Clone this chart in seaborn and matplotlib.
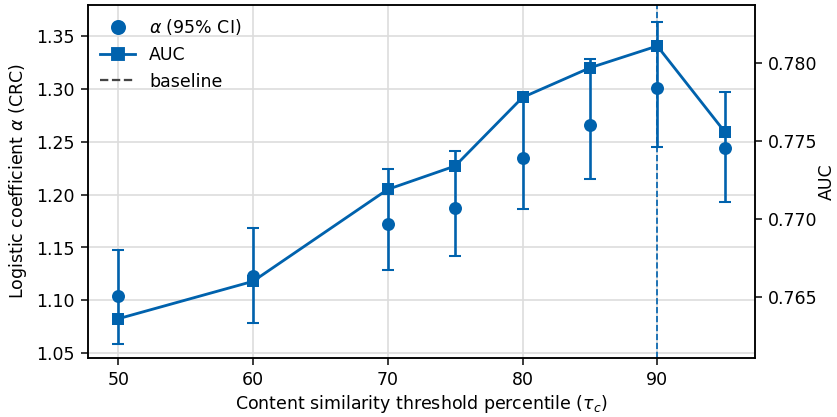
import pandas as pd
import seaborn as sns
import matplotlib.pyplot as plt
from matplotlib.lines import Line2D

# data
thresholds = [50, 60, 70, 75, 80, 85, 90, 95]
alpha = [1.104, 1.123, 1.172, 1.187, 1.235, 1.266, 1.301, 1.244]
alpha_low = [1.059, 1.079, 1.129, 1.142, 1.186, 1.215, 1.245, 1.193]
alpha_high = [1.148, 1.168, 1.224, 1.241, 1.290, 1.328, 1.363, 1.297]
auc = [0.7636, 0.7660, 0.7719, 0.7734, 0.7778, 0.7797, 0.7811, 0.7756]
baseline_tau = 90

BLUE = '#0062ad'

df = pd.DataFrame({'tau': thresholds, 'alpha': alpha,
                   'low': alpha_low, 'high': alpha_high, 'auc': auc})

plt.rcParams['font.family'] = ['DejaVu Sans']
plt.rcParams['font.size'] = 9.3

fig, ax = plt.subplots(figsize=(6.2, 3.09), dpi=135)
fig.subplots_adjust(left=0.105, right=0.902, top=0.988, bottom=0.141)

# alpha with CI
err = [df['alpha'] - df['low'], df['high'] - df['alpha']]
ax.errorbar(df['tau'], df['alpha'], yerr=err, fmt='none',
            ecolor=BLUE, elinewidth=1.4, capsize=3, capthick=1.1, zorder=3)
sns.scatterplot(data=df, x='tau', y='alpha', ax=ax, color=BLUE, s=48,
                edgecolor=BLUE, linewidth=0, zorder=4)
ax.axvline(baseline_tau, color=BLUE, ls='--', lw=0.9, zorder=2)

ax.set_ylim(1.0453, 1.3793)
ax.set_yticks([1.05, 1.10, 1.15, 1.20, 1.25, 1.30, 1.35])
ax.set_xticks([50, 60, 70, 80, 90])
ax.grid(True, color='#dddddd', lw=0.9)
ax.set_axisbelow(True)
ax.set_xlabel(r'Content similarity threshold percentile ($\tau_c$)',
              labelpad=2)
ax.set_ylabel(r'Logistic coefficient $\alpha$ (CRC)')

# AUC on twin axis
ax2 = ax.twinx()
sns.lineplot(data=df, x='tau', y='auc', ax=ax2, color=BLUE, marker='s',
             markersize=6, markeredgewidth=0, linewidth=1.5)
ax2.set_ylim(0.76107, 0.78374)
ax2.set_yticks([0.765, 0.770, 0.775, 0.780])
ax2.set_ylabel('AUC', labelpad=0)

handles = [
    Line2D([], [], color=BLUE, marker='o', ls='none', markersize=7),
    Line2D([], [], color=BLUE, marker='s', lw=1.5, markersize=6),
    Line2D([], [], color='#444444', ls='--', lw=1.2),
]
labels = [r'$\alpha$ (95% CI)', 'AUC', 'baseline']
ax2.legend(handles, labels, loc='upper left', frameon=False,
           borderaxespad=0.3)

fig.savefig('out.png', dpi=135)
